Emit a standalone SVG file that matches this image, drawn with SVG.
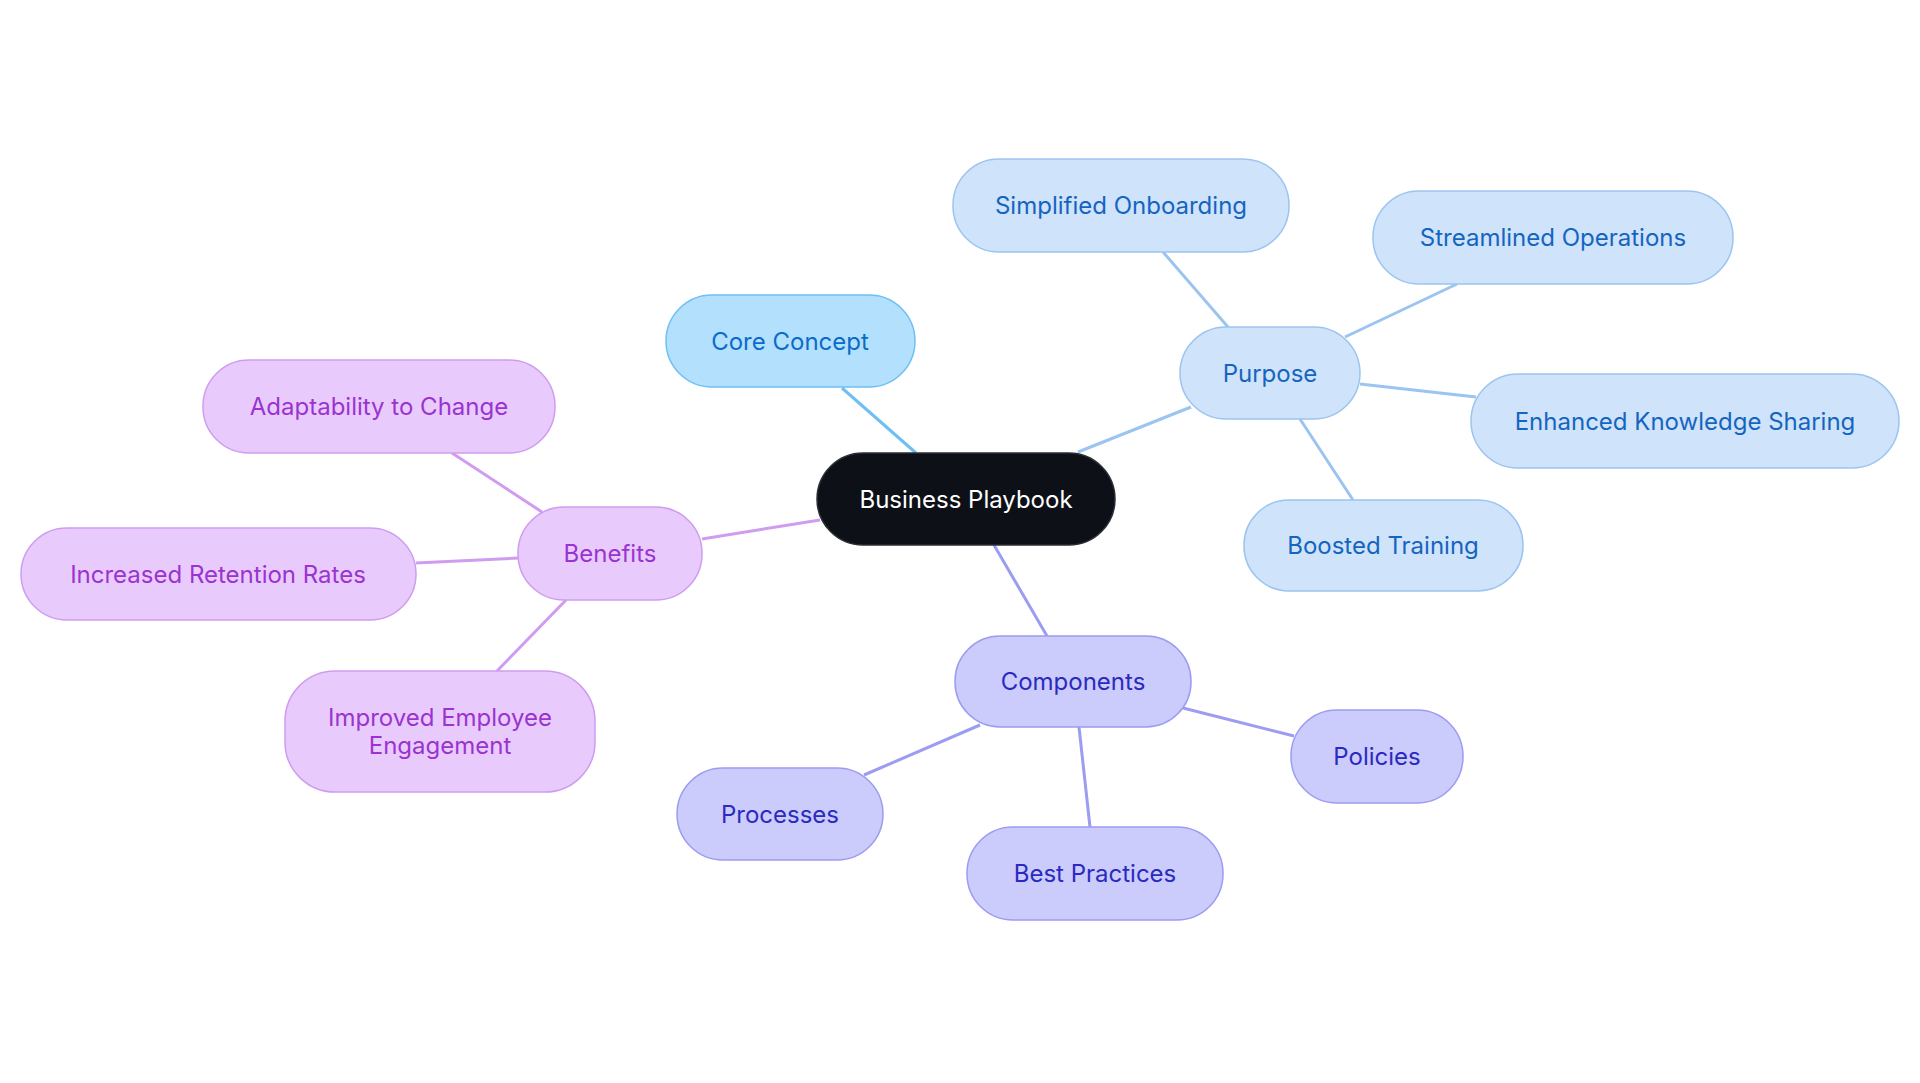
<svg xmlns="http://www.w3.org/2000/svg" width="1920" height="1083" viewBox="0 0 1920 1083">
<style>
text{font-family:Inter,"Noto Sans",sans-serif;font-size:24px;text-anchor:middle;dominant-baseline:central}
rect{stroke-width:1.5}
.c rect{fill:#b3e0fd;stroke:#6fbff5}.c text{fill:#0b6bcb}
.p rect{fill:#cfe3fa;stroke:#9cc4f0}.p text{fill:#1565c0}
.m rect{fill:#cbcbfc;stroke:#9c9cf0}.m text{fill:#2a2ac0}
.b rect{fill:#e8cbfc;stroke:#cf9cf0}.b text{fill:#9a33d0}
#edges line{stroke-width:3}
</style>
<rect width="1920" height="1083" fill="#fff"/>
<g id="edges">
<line x1="916" y1="453" x2="842" y2="388" stroke="#6fbff5"/>
<line x1="1078" y1="452" x2="1191" y2="407" stroke="#9cc4f0"/>
<line x1="1228" y1="327" x2="1163" y2="252" stroke="#9cc4f0"/>
<line x1="1345" y1="337" x2="1457" y2="284" stroke="#9cc4f0"/>
<line x1="1360" y1="384" x2="1476" y2="397" stroke="#9cc4f0"/>
<line x1="1300" y1="419" x2="1353" y2="500" stroke="#9cc4f0"/>
<line x1="994" y1="545" x2="1047" y2="636" stroke="#9c9cf0"/>
<line x1="1183" y1="708" x2="1294" y2="736" stroke="#9c9cf0"/>
<line x1="1079" y1="727" x2="1090" y2="827" stroke="#9c9cf0"/>
<line x1="980" y1="725" x2="864" y2="775" stroke="#9c9cf0"/>
<line x1="820" y1="520" x2="702" y2="539" stroke="#cf9cf0"/>
<line x1="542" y1="512" x2="452" y2="453" stroke="#cf9cf0"/>
<line x1="519" y1="558" x2="416" y2="563" stroke="#cf9cf0"/>
<line x1="566" y1="600" x2="497" y2="671" stroke="#cf9cf0"/>
</g>
<g id="root"><rect x="817" y="453" width="298" height="92" rx="46" fill="#0d1117" stroke="#2a2f36"/><text x="966" y="499" fill="#fff">Business Playbook</text></g>
<g id="core" class="c"><rect x="666" y="295" width="249" height="92" rx="46"/><text x="790" y="341">Core Concept</text></g>
<g id="purpose" class="p"><rect x="1180" y="327" width="180" height="92" rx="46"/><text x="1270" y="373">Purpose</text></g>
<g id="onboarding" class="p"><rect x="953" y="159" width="336" height="93" rx="46"/><text x="1121" y="205">Simplified Onboarding</text></g>
<g id="operations" class="p"><rect x="1373" y="191" width="360" height="93" rx="46"/><text x="1553" y="237">Streamlined Operations</text></g>
<g id="knowledge" class="p"><rect x="1471" y="374" width="428" height="94" rx="47"/><text x="1685" y="421">Enhanced Knowledge Sharing</text></g>
<g id="training" class="p"><rect x="1244" y="500" width="279" height="91" rx="45"/><text x="1383" y="545">Boosted Training</text></g>
<g id="components" class="m"><rect x="955" y="636" width="236" height="91" rx="45"/><text x="1073" y="681">Components</text></g>
<g id="policies" class="m"><rect x="1291" y="710" width="172" height="93" rx="46"/><text x="1377" y="756">Policies</text></g>
<g id="best" class="m"><rect x="967" y="827" width="256" height="93" rx="46"/><text x="1095" y="873">Best Practices</text></g>
<g id="processes" class="m"><rect x="677" y="768" width="206" height="92" rx="46"/><text x="780" y="814">Processes</text></g>
<g id="benefits" class="b"><rect x="518" y="507" width="184" height="93" rx="46"/><text x="610" y="553">Benefits</text></g>
<g id="adapt" class="b"><rect x="203" y="360" width="352" height="93" rx="46"/><text x="379" y="406">Adaptability to Change</text></g>
<g id="retention" class="b"><rect x="21" y="528" width="395" height="92" rx="46"/><text x="218" y="574">Increased Retention Rates</text></g>
<g id="engagement" class="b"><rect x="285" y="671" width="310" height="121" rx="50"/><text x="440" y="717">Improved Employee</text><text x="440" y="745">Engagement</text></g>
</svg>
